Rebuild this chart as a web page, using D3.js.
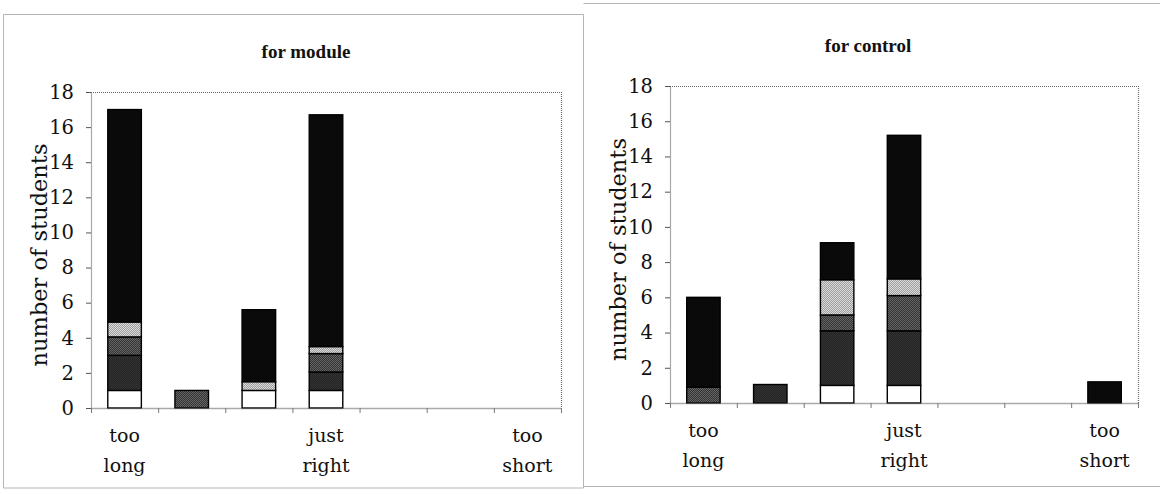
<!DOCTYPE html>
<html><head><meta charset="utf-8">
<script src="https://cdn.jsdelivr.net/npm/d3@7"></script>
<style>body{margin:0;background:#fff}svg{display:block}</style></head>
<body>
<svg id="c" width="1160" height="494"></svg>
<script>
// ---- data ----
const categories = ["too long", "", "", "just right", "", "", "too short"];
const seriesKeys = ["white", "dark", "dotted", "light", "black"];
const yTicks = [0, 2, 4, 6, 8, 10, 12, 14, 16, 18];

const moduleWhite  = [1, 0, 1, 1, 0, 0, 0];
const moduleDark   = [2, 0, 0, 1.05, 0, 0, 0];
const moduleDotted = [1.05, 1, 0, 1.05, 0, 0, 0];
const moduleLight  = [0.85, 0, 0.5, 0.4, 0, 0, 0];
const moduleBlack  = [12.1, 0, 4.1, 13.2, 0, 0, 0];

const controlWhite  = [0, 0, 1, 1, 0, 0, 0];
const controlDark   = [0, 1.05, 3.1, 3.1, 0, 0, 0];
const controlDotted = [0.9, 0, 0.9, 2, 0, 0, 0];
const controlLight  = [0, 0, 2, 0.95, 0, 0, 0];
const controlBlack  = [5.1, 0, 2.1, 8.15, 0, 0, 1.2];

function rows(w, d, dt, l, b) {
  return categories.map((c, i) => ({idx: i, white: w[i], dark: d[i], dotted: dt[i], light: l[i], black: b[i]}));
}
const moduleRows = rows(moduleWhite, moduleDark, moduleDotted, moduleLight, moduleBlack);
const controlRows = rows(controlWhite, controlDark, controlDotted, controlLight, controlBlack);

const svg = d3.select("#c");
const FONT = "'DejaVu Serif', serif";
const TFONT = "'Liberation Serif', 'Times New Roman', serif";

// patterns
const defs = svg.append("defs");
function checker(id, a, b) {
  const p = defs.append("pattern").attr("id", id).attr("width", 2).attr("height", 2)
    .attr("patternUnits", "userSpaceOnUse");
  p.append("rect").attr("width", 2).attr("height", 2).attr("fill", a);
  p.append("rect").attr("width", 1).attr("height", 1).attr("fill", b);
  p.append("rect").attr("x", 1).attr("y", 1).attr("width", 1).attr("height", 1).attr("fill", b);
}
checker("pDark", "#242424", "#333333");
checker("pDotted", "#333333", "#666666");
checker("pLight", "#9e9e9e", "#dadada");
const fills = {white: "#ffffff", dark: "url(#pDark)", dotted: "url(#pDotted)", light: "url(#pLight)", black: "#0a0a0a"};

// panel frames
const frame = svg.append("g").attr("stroke", "#b5b5b5").attr("stroke-width", 1).attr("fill", "none");
frame.append("path").attr("d", "M3.5,488 L3.5,14.5 L583.5,14.5 L583.5,488 L3.5,488");
frame.append("path").attr("d", "M583.5,3.5 L1160,3.5 M583.5,486.5 L1160,486.5");

function panel(o) {
  const g = svg.append("g");
  const x = d3.scaleBand().domain(d3.range(categories.length)).range([o.x0, o.x1])
    .paddingInner(0.5).paddingOuter(0.25);
  const xl = d3.scaleLinear().domain([0, categories.length]).range([o.x0, o.x1]);
  const y = d3.scaleLinear().domain([0, 18]).range([o.yb, o.yt]);

  // plot border (top/right dotted)
  g.append("path")
    .attr("d", `M${o.x0},${o.yt + 0.5} L${o.x1 + 0.5},${o.yt + 0.5} L${o.x1 + 0.5},${o.yb}`)
    .attr("fill", "none").attr("stroke", "#666").attr("stroke-width", 1.2).attr("stroke-dasharray", "1,1");

  // stacked bars
  const stack = d3.stack().keys(seriesKeys)(o.data);
  g.selectAll("g.s").data(stack).join("g").attr("class", "s")
    .attr("fill", d => fills[d.key])
    .selectAll("rect").data(d => d.filter(p => p[1] - p[0] > 0)).join("rect")
    .attr("x", p => x(p.data.idx))
    .attr("width", x.bandwidth())
    .attr("y", p => y(p[1]))
    .attr("height", p => y(p[0]) - y(p[1]))
    .attr("stroke", "#000").attr("stroke-width", 1.4);

  // y axis
  const ya = g.append("g").attr("transform", `translate(${o.x0},0)`)
    .call(d3.axisLeft(y).tickValues(yTicks).tickSize(5).tickSizeOuter(0).tickPadding(12));
  ya.select(".domain").attr("stroke", "#555").attr("stroke-width", 1.2).attr("stroke-dasharray", "1,1");
  ya.selectAll(".tick line").attr("stroke", "#555");
  ya.selectAll("text").attr("font-family", FONT).attr("font-size", 19.5).attr("fill", "#111");

  // x axis
  const xa = g.append("g").attr("transform", `translate(0,${o.yb})`)
    .call(d3.axisBottom(xl).tickValues(d3.range(categories.length + 1)).tickSize(5).tickSizeOuter(0).tickFormat(""));
  xa.select(".domain").attr("stroke", "#555").attr("stroke-width", 1.4).attr("stroke-dasharray", "1,1");
  xa.selectAll(".tick line").attr("stroke", "#777");

  // category labels
  g.selectAll("text.cat").data(categories.map((c, i) => ({c, i})).filter(d => d.c)).join("text")
    .attr("class", "cat")
    .attr("font-family", FONT).attr("font-size", 19).attr("fill", "#111").attr("text-anchor", "middle")
    .each(function(d) {
      const parts = d.c.split(" ");
      const t = d3.select(this);
      parts.forEach((p, k) => t.append("tspan").attr("x", x(d.i) + x.bandwidth() / 2)
        .attr("y", o.yb + 34 + k * 30).text(p));
    });

  // y label
  g.append("text").attr("transform", `translate(${o.ylx},${(o.yt + o.yb) / 2 + 5}) rotate(-90)`)
    .attr("text-anchor", "middle").attr("font-family", FONT).attr("font-size", 22.5).attr("fill", "#111")
    .text("number of students");

  // title
  g.append("text").attr("x", o.tx).attr("y", o.ty).attr("text-anchor", "middle")
    .attr("font-family", TFONT).attr("font-weight", "bold").attr("font-size", 19).attr("fill", "#111")
    .text(o.title);
}

panel({x0: 91, x1: 561, yt: 92, yb: 408, data: moduleRows, title: "for module", tx: 306, ty: 58, ylx: 47});
panel({x0: 670, x1: 1138, yt: 86, yb: 403, data: controlRows, title: "for control", tx: 868, ty: 52, ylx: 626});
</script>
</body></html>
